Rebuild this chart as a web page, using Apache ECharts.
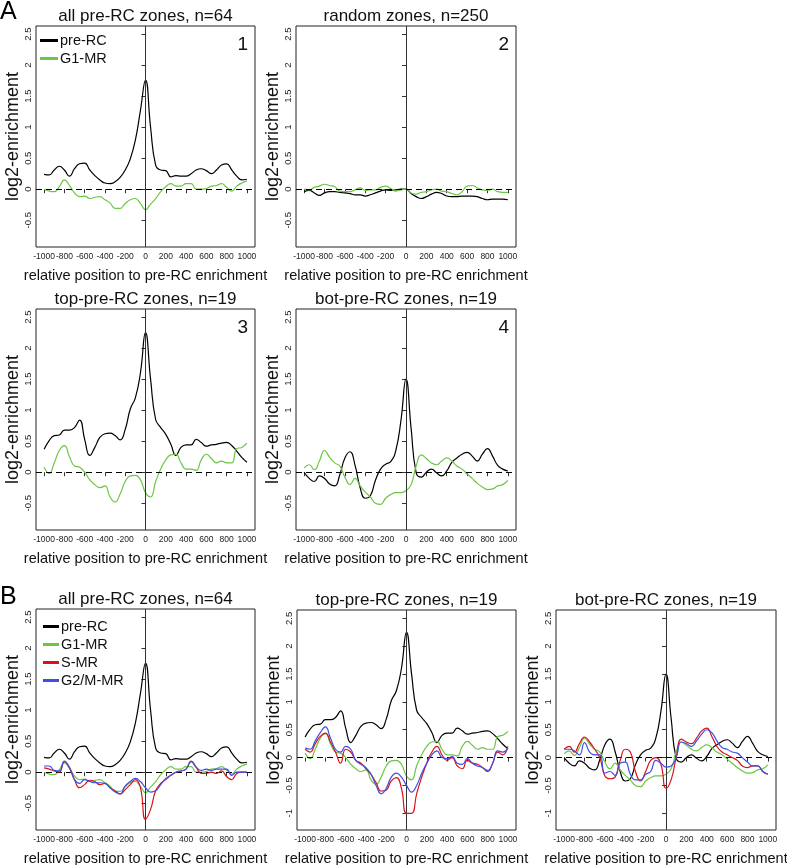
<!DOCTYPE html>
<html>
<head>
<meta charset="utf-8">
<script src="https://cdn.jsdelivr.net/npm/echarts@6/dist/echarts.min.js"></script>
<style>
html, body { margin: 0; padding: 0; background: #fff; }
#chart { width: 787px; height: 865px; }
</style>
</head>
<body>
<div id="chart"></div>
<script>
// relative position (bp) of each profile sample
const positions = [-1000, -950, -900, -850, -800, -750, -700, -650, -600, -550, -500, -450, -400, -350, -300, -250, -200, -150, -100, -50,
  0, 50, 100, 150, 200, 250, 300, 350, 400, 450, 500, 550, 600, 650, 700, 750, 800, 850, 900, 950, 1000]
const xTicks = [-1000, -800, -600, -400, -200, 0, 200, 400, 600, 800, 1000]
const yTicksA = [-0.5, 0, 0.5, 1, 1.5, 2, 2.5]
const yTicksB = [-1, -0.5, 0, 0.5, 1, 1.5, 2, 2.5]

// all pre-RC zones, n=64
const allPreRC = [0.24, 0.23, 0.31, 0.37, 0.31, 0.21, 0.33, 0.41, 0.42, 0.31, 0.22, 0.15, 0.10, 0.09, 0.12, 0.19, 0.31, 0.49, 0.79, 1.27,
  1.76, 1.0, 0.39, 0.31, 0.30, 0.20, 0.22, 0.21, 0.21, 0.25, 0.31, 0.33, 0.30, 0.25, 0.31, 0.39, 0.41, 0.31, 0.21, 0.15, 0.16]
const allG1MR = [0.0, -0.03, -0.04, 0.04, 0.15, 0.06, -0.06, -0.12, -0.11, -0.15, -0.13, -0.12, -0.17, -0.22, -0.31, -0.31, -0.23, -0.17, -0.15, -0.23,
  -0.33, -0.24, -0.15, -0.04, 0.04, 0.09, 0.05, 0.05, 0.09, 0.09, 0.0, 0.0, 0.01, 0.05, 0.06, 0.09, 0.03, -0.03, 0.05, 0.10, 0.13]
const allSMR = [0.07, 0.05, 0.02, 0.0, 0.17, 0.08, -0.12, -0.25, -0.2, -0.13, -0.15, -0.2, -0.18, -0.25, -0.3, -0.35, -0.28, -0.2, -0.12, -0.25,
  -0.76, -0.6, -0.3, -0.18, -0.12, -0.05, 0.0, 0.02, 0.05, 0.18, 0.08, -0.02, -0.02, 0.0, -0.02, 0.02, -0.07, -0.12, -0.02, 0.0, 0.0]
const allG2MMR = [0.1, 0.1, 0.03, 0.02, 0.18, 0.07, -0.12, -0.18, -0.12, -0.15, -0.17, -0.17, -0.18, -0.25, -0.32, -0.35, -0.22, -0.15, -0.1, -0.15,
  -0.25, -0.32, -0.3, -0.2, -0.1, -0.05, 0.0, 0.02, 0.05, 0.17, 0.08, 0.03, 0.05, 0.03, 0.05, 0.05, 0.05, -0.05, 0.0, 0.0, 0.0]

// random zones, n=250
const randomPreRC = [-0.04, -0.02, -0.06, -0.10, -0.06, -0.04, -0.04, -0.05, -0.06, -0.07, -0.09, -0.09, -0.11, -0.09, -0.06, -0.03, -0.01, -0.02, -0.01, 0.0,
  0.0, -0.07, -0.12, -0.15, -0.12, -0.08, -0.05, -0.07, -0.11, -0.12, -0.12, -0.11, -0.11, -0.11, -0.12, -0.15, -0.17, -0.16, -0.16, -0.16, -0.17]
const randomG1MR = [0.0, -0.01, 0.03, 0.05, 0.08, 0.06, 0.04, -0.03, -0.04, -0.04, -0.01, 0.02, -0.02, -0.01, -0.01, 0.03, 0.05, 0.01, -0.03, -0.01,
  0.0, -0.06, -0.08, -0.05, -0.04, -0.01, 0.0, -0.03, -0.04, -0.07, -0.09, -0.04, 0.05, 0.06, 0.02, -0.01, -0.02, 0.0, -0.04, -0.05, -0.05]

// top-pre-RC zones, n=19
const topPreRC = [0.37, 0.51, 0.59, 0.60, 0.68, 0.68, 0.72, 0.84, 0.53, 0.27, 0.40, 0.56, 0.62, 0.63, 0.59, 0.52, 0.69, 1.02, 1.2, 1.6,
  2.25, 1.5, 0.85, 0.72, 0.61, 0.45, 0.27, 0.40, 0.44, 0.44, 0.53, 0.48, 0.42, 0.44, 0.45, 0.47, 0.48, 0.43, 0.34, 0.24, 0.16]
const topG1MR = [0.08, -0.02, 0.15, 0.35, 0.43, 0.25, 0.1, 0.08, 0.0, -0.12, -0.2, -0.25, -0.22, -0.4, -0.48, -0.35, -0.15, -0.06, -0.05, -0.12,
  -0.33, -0.4, -0.15, 0.05, 0.2, 0.28, 0.29, 0.15, 0.05, 0.05, 0.03, 0.2, 0.29, 0.22, 0.15, 0.18, 0.15, 0.15, 0.38, 0.4, 0.47]
const topSMR = [0.15, 0.1, 0.25, 0.38, 0.44, 0.28, 0.1, -0.1, 0.15, 0.1, -0.05, -0.1, -0.2, -0.3, -0.45, -0.6, -0.58, -0.42, -0.36, -0.55,
  -1.0, -1.0, -0.65, -0.35, -0.1, 0.1, 0.2, 0.05, -0.05, 0.0, -0.15, -0.2, -0.05, -0.1, -0.12, -0.18, -0.25, -0.1, 0.1, 0.05, 0.2]
const topG2MMR = [0.17, 0.15, 0.3, 0.45, 0.55, 0.35, 0.15, 0.1, 0.2, 0.15, -0.05, -0.12, -0.18, -0.3, -0.5, -0.65, -0.55, -0.35, -0.28, -0.35,
  -0.5, -0.62, -0.5, -0.28, -0.1, 0.05, 0.12, 0.0, -0.02, 0.02, -0.1, -0.12, -0.02, -0.1, -0.15, -0.18, -0.23, -0.1, 0.12, 0.1, 0.17]

// bot-pre-RC zones, n=19
const botPreRC = [0.0, -0.1, -0.15, -0.06, -0.1, -0.19, -0.22, -0.04, 0.23, 0.33, 0.11, -0.25, -0.42, -0.38, -0.13, 0.05, 0.13, 0.17, 0.35, 0.83,
  1.5, 0.71, -0.01, -0.08, 0.0, 0.05, -0.01, -0.06, 0.02, 0.16, 0.23, 0.29, 0.32, 0.26, 0.18, 0.29, 0.38, 0.26, 0.11, 0.05, 0.02]
const botG1MR = [0.07, 0.12, 0.04, 0.18, 0.35, 0.24, 0.15, 0.1, -0.08, -0.2, -0.1, -0.22, -0.32, -0.4, -0.5, -0.52, -0.42, -0.36, -0.33, -0.33,
  -0.3, -0.2, 0.1, 0.28, 0.22, 0.15, 0.12, 0.18, 0.23, 0.18, 0.1, 0.05, -0.03, -0.1, -0.18, -0.24, -0.28, -0.27, -0.22, -0.2, -0.13]
const botSMR = [0.15, 0.2, 0.1, 0.25, 0.37, 0.28, 0.15, 0.0, -0.33, -0.38, -0.35, -0.05, 0.15, 0.1, -0.25, -0.42, -0.25, -0.05, 0.0, -0.12,
  -0.55, -0.4, 0.0, 0.33, 0.28, 0.25, 0.35, 0.48, 0.53, 0.38, 0.2, 0.1, 0.05, 0.0, -0.05, -0.15, -0.18, -0.15, -0.15, -0.25, -0.3]
const botG2MMR = [0.15, 0.15, 0.12, 0.05, 0.27, 0.1, 0.05, 0.05, -0.28, -0.25, -0.32, -0.1, -0.08, -0.3, -0.4, -0.4, -0.3, -0.25, -0.05, -0.1,
  -0.17, -0.15, 0.0, 0.28, 0.25, 0.2, 0.3, 0.42, 0.5, 0.45, 0.3, 0.18, 0.15, 0.1, 0.08, 0.0, -0.08, -0.15, -0.15, -0.25, -0.3]

const font = "'Liberation Sans', Arial, Helvetica, sans-serif"
const colors = { 'pre-RC': '#000000', 'G1-MR': '#6cc644', 'S-MR': '#d7141a', 'G2/M-MR': '#3f4fe6' }

const panels = [
  { left: 36, top: 26, width: 219, height: 221, yMin: -0.932, yMax: 2.632, yTicks: yTicksA, title: 'all pre-RC zones, n=64', tag: '1',
    lines: [['pre-RC', allPreRC], ['G1-MR', allG1MR]] },
  { left: 296, top: 26, width: 220, height: 221, yMin: -0.932, yMax: 2.632, yTicks: yTicksA, title: 'random zones, n=250', tag: '2',
    lines: [['pre-RC', randomPreRC], ['G1-MR', randomG1MR]] },
  { left: 36, top: 309, width: 219, height: 221, yMin: -0.932, yMax: 2.632, yTicks: yTicksA, title: 'top-pre-RC zones, n=19', tag: '3',
    lines: [['pre-RC', topPreRC], ['G1-MR', topG1MR]] },
  { left: 296, top: 309, width: 220, height: 221, yMin: -0.932, yMax: 2.632, yTicks: yTicksA, title: 'bot-pre-RC zones, n=19', tag: '4',
    lines: [['pre-RC', botPreRC], ['G1-MR', botG1MR]] },
  { left: 36, top: 609, width: 219, height: 221, yMin: -0.932, yMax: 2.632, yTicks: yTicksA, title: 'all pre-RC zones, n=64', tag: '',
    lines: [['pre-RC', allPreRC], ['G1-MR', allG1MR], ['S-MR', allSMR], ['G2/M-MR', allG2MMR]] },
  { left: 297, top: 610, width: 219, height: 220, yMin: -1.3, yMax: 2.65, yTicks: yTicksB, title: 'top-pre-RC zones, n=19', tag: '',
    lines: [['pre-RC', topPreRC], ['G1-MR', topG1MR], ['S-MR', topSMR], ['G2/M-MR', topG2MMR]] },
  { left: 556, top: 610, width: 220, height: 220, yMin: -1.3, yMax: 2.65, yTicks: yTicksB, title: 'bot-pre-RC zones, n=19', tag: '',
    lines: [['pre-RC', botPreRC], ['G1-MR', botG1MR], ['S-MR', botSMR], ['G2/M-MR', botG2MMR]] },
]

let myChart = echarts.init(document.getElementById('chart'))

let grid = []
let xAxis = []
let yAxis = []
let title = []
let series = []
let graphic = []

panels.forEach((p, i) => {
  grid.push({
    left: p.left, top: p.top, width: p.width, height: p.height,
    show: true, borderColor: '#222', borderWidth: 1, backgroundColor: 'transparent',
    containLabel: false, outerBoundsMode: 'none',
  })
  xAxis.push({
    gridIndex: i,
    type: 'value',
    min: -1080,
    max: 1080,
    name: 'relative position to pre-RC enrichment',
    nameLocation: 'middle',
    nameGap: 21,
    nameTextStyle: { fontSize: 14.5, color: '#111', fontFamily: font },
    axisLine: { show: false },
    splitLine: { show: false },
    axisTick: { show: true, inside: false, length: 4, customValues: xTicks, lineStyle: { color: '#333' } },
    axisLabel: {
      show: true, customValues: xTicks, margin: 5, fontSize: 8.5, color: '#222', fontFamily: font,
      hideOverlap: false, showMinLabel: true, showMaxLabel: true,
      formatter: (v) => String(v),
    },
  })
  yAxis.push({
    gridIndex: i,
    type: 'value',
    min: p.yMin,
    max: p.yMax,
    name: 'log2-enrichment',
    nameLocation: 'middle',
    nameGap: 12,
    nameTextStyle: { fontSize: 18, color: '#111', fontFamily: font },
    axisLine: { show: false },
    splitLine: { show: false },
    axisTick: { show: true, inside: false, length: 4, customValues: p.yTicks, lineStyle: { color: '#333' } },
    axisLabel: {
      show: true, customValues: p.yTicks, rotate: 90, margin: 3, fontSize: 9.5, color: '#222', fontFamily: font,
      hideOverlap: false, showMinLabel: true, showMaxLabel: true,
      formatter: (v) => String(v),
    },
  })
  title.push({
    text: p.title,
    left: p.left + p.width / 2,
    top: p.top - 18,
    textAlign: 'center',
    padding: 0,
    textStyle: { fontSize: 17, fontWeight: 'normal', color: '#111', fontFamily: font },
  })
  if (p.tag) {
    graphic.push({
      type: 'text',
      x: p.left + p.width - 7,
      y: p.top + 19,
      style: { text: p.tag, fontSize: 19, fontFamily: font, fill: '#111', align: 'right', verticalAlign: 'middle' },
    })
  }
  p.lines.forEach((l, k) => {
    let s = {
      name: l[0],
      type: 'line',
      xAxisIndex: i,
      yAxisIndex: i,
      data: positions.map((x, j) => [x, l[1][j]]),
      showSymbol: false,
      smooth: 0.5,
      lineStyle: { color: colors[l[0]], width: 1.2 },
      itemStyle: { color: colors[l[0]] },
      animation: false,
      z: 3 + k,
    }
    if (k == 0) {
      s.markLine = {
        silent: true,
        symbol: ['none', 'none'],
        label: { show: false },
        animation: false,
        data: [
          { xAxis: 0, lineStyle: { type: 'solid', color: '#333', width: 1 } },
          { yAxis: 0, lineStyle: { type: [6, 4], color: '#000', width: 1.2 } },
        ],
      }
    }
    series.push(s)
  })
})

graphic.push({
  type: 'text', x: 0, y: 12,
  style: { text: 'A', fontSize: 25, fontFamily: font, fill: '#000', align: 'left', verticalAlign: 'middle' },
})
graphic.push({
  type: 'text', x: 0, y: 597,
  style: { text: 'B', fontSize: 25, fontFamily: font, fill: '#000', align: 'left', verticalAlign: 'middle' },
})

let option = {
  backgroundColor: '#fff',
  animation: false,
  textStyle: { fontFamily: font },
  title: title,
  grid: grid,
  xAxis: xAxis,
  yAxis: yAxis,
  legend: [
    {
      data: ['pre-RC', 'G1-MR'],
      orient: 'vertical',
      left: 40, top: 33,
      padding: 0,
      itemWidth: 18, itemHeight: 3, itemGap: 3,
      icon: 'rect',
      selectedMode: false,
      textStyle: { fontSize: 14.5, color: '#111', fontFamily: font, padding: [0, 0, 0, -3] },
    },
    {
      data: ['pre-RC', 'G1-MR', 'S-MR', 'G2/M-MR'],
      orient: 'vertical',
      left: 43, top: 619,
      padding: 0,
      itemWidth: 16, itemHeight: 3, itemGap: 3,
      icon: 'rect',
      selectedMode: false,
      textStyle: { fontSize: 14.5, color: '#111', fontFamily: font, padding: [0, 0, 0, -3] },
    },
  ],
  graphic: graphic,
  series: series,
}
myChart.setOption(option)
window.addEventListener('resize', () => {
  myChart.resize()
})
</script>
</body>
</html>
